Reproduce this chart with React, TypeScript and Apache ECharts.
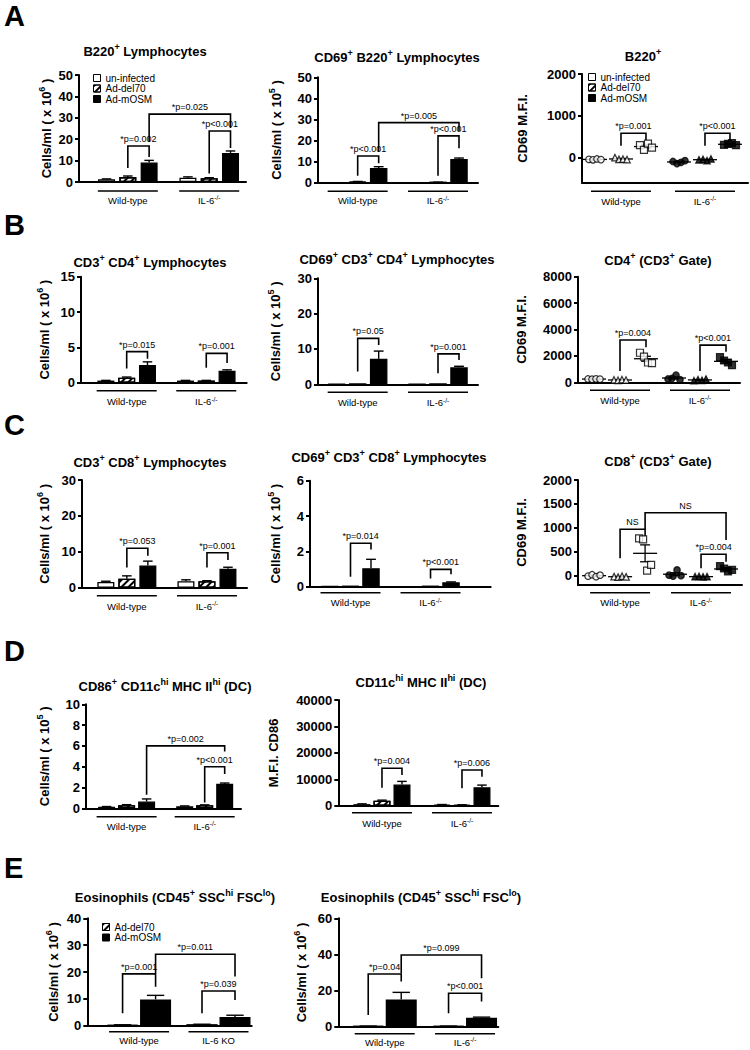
import React, { useEffect, useRef } from "react";
import * as echarts from "echarts";

const FONT = "'Liberation Sans', Arial, Helvetica, sans-serif";

const treatments = ["un-infected", "Ad-del70", "Ad-mOSM"];
const groupsStd = ["Wild-type", "IL-6{s|-/-}"];
const groupsKO = ["Wild-type", "IL-6 KO"];
const jitter = [-6, -2, 2, 6];

// ---- A1: B220+ lymphocytes (x10^6)
const a1Un = [1.3, 2.0];
const a1UnErr = [0.15, 0.4];
const a1Del = [2.3, 1.8];
const a1DelErr = [0.5, 0.2];
const a1Osm = [9.1, 13.6];
const a1OsmErr = [1.0, 0.9];
const a1Brackets = [[0, 1, 6.5, 0, 2, 11.7, 16.8], [1, 1, 4, 1, 2, 15.9, 23.8], [0, 2, 18.7, 1, 2, 25.2, 31.7]];
const a1Labels = ["*p=0.002", "*p<0.001", "*p=0.025"];

// ---- A2: CD69+ B220+ lymphocytes (x10^5)
const a2Un = [0.1, 0.1];
const a2UnErr = [0, 0];
const a2Del = [0.5, 0.2];
const a2DelErr = [0.1, 0.05];
const a2Osm = [7.0, 11.2];
const a2OsmErr = [0.6, 0.5];
const a2Brackets = [[0, 1, 3.3, 0, 2, 9.2, 12.7], [1, 1, 3.3, 1, 2, 16.3, 22.2], [0, 2, 14.7, 1, 2, 24.5, 28.5]];
const a2Labels = ["*p<0.001", "*p<0.001", "*p=0.005"];

// ---- A3: B220+ CD69 MFI
const a3WtUn = [-50, -60, -40, -55];
const a3WtDel = [-10, -50, -45, -55];
const a3WtOsm = [290, 180, 330, 230];
const a3KoUn = [-100, -150, -120, -80];
const a3KoDel = [-60, -50, -80, -40];
const a3KoOsm = [300, 320, 340, 290];
const a3Brackets = [[0, 1, 280, 0, 2, 415, 576], [1, 1, 280, 1, 2, 415, 576]];
const a3Labels = ["*p=0.001", "*p<0.001"];

// ---- B1: CD3+ CD4+ (x10^6)
const b1Un = [0.3, 0.3];
const b1UnErr = [0.03, 0.03];
const b1Del = [0.7, 0.3];
const b1DelErr = [0.1, 0.03];
const b1Osm = [2.5, 1.7];
const b1OsmErr = [0.45, 0.12];
const b1Brackets = [[0, 1, 2.0, 0, 2, 3.4, 4.4], [1, 1, 2.1, 1, 2, 2.8, 4.15]];
const b1Labels = ["*p=0.015", "*p=0.001"];

// ---- B2: CD69+ CD3+ CD4+ (x10^5)
const b2Un = [0.1, 0.05];
const b2UnErr = [0, 0];
const b2Del = [0.1, 0.05];
const b2DelErr = [0, 0];
const b2Osm = [7.2, 4.8];
const b2OsmErr = [2.2, 0.3];
const b2Brackets = [[0, 1, 3.6, 0, 2, 11.1, 13], [1, 1, 3.1, 1, 2, 6.9, 8.6]];
const b2Labels = ["*p=0.05", "*p=0.001"];

// ---- B3: CD4+ (CD3+ gate) CD69 MFI
const b3WtUn = [250, 230, 260, 240];
const b3WtDel = [180, 150, 200, 170];
const b3WtOsm = [2240, 1940, 1500, 1460];
const b3KoUn = [250, 300, 550, 200];
const b3KoDel = [120, 200, 150, 250];
const b3KoOsm = [1900, 1650, 1500, 1300];
const b3Brackets = [[0, 1, 850, 0, 2, 2650, 3200], [1, 1, 850, 1, 2, 2320, 2820]];
const b3Labels = ["*p=0.004", "*p<0.001"];

// ---- C1: CD3+ CD8+ (x10^6)
const c1Un = [1.6, 1.8];
const c1UnErr = [0.2, 0.4];
const c1Del = [2.5, 1.8];
const c1DelErr = [0.8, 0.15];
const c1Osm = [6.2, 5.3];
const c1OsmErr = [1.2, 0.4];
const c1Brackets = [[0, 1, 5.6, 0, 2, 8.9, 11], [1, 1, 5.6, 1, 2, 7.7, 9.75]];
const c1Labels = ["*p=0.053", "*p=0.001"];

// ---- C2: CD69+ CD3+ CD8+ (x10^5)
const c2Un = [0.02, 0.01];
const c2UnErr = [0, 0];
const c2Del = [0.03, 0.02];
const c2DelErr = [0, 0];
const c2Osm = [1.05, 0.25];
const c2OsmErr = [0.5, 0.02];
const c2Brackets = [[0, 1, 0.57, 0, 2, 2.1, 2.46], [1, 1, 0.47, 1, 2, 0.7, 0.98]];
const c2Labels = ["*p=0.014", "*p<0.001"];

// ---- C3: CD8+ (CD3+ gate) CD69 MFI
const c3WtUn = [-10, 20, -20, 10];
const c3WtDel = [-20, -30, -10, -25];
const c3WtOsm = [780, 760, 105, 224];
const c3KoUn = [10, -10, 120, 0];
const c3KoDel = [-20, -15, -25, -20];
const c3KoOsm = [200, 150, 90, 120];
const c3Brackets = [[0, 1, 364, 0, 2, 830, 970], [0, 2, 970, 1, 2, 746, 1316], [1, 1, 155, 1, 2, 293, 447]];
const c3Labels = ["NS", "NS", "*p=0.004"];

// ---- D1: CD86+ CD11c hi MHC II hi DC (x10^5)
const d1Un = [0.15, 0.2];
const d1UnErr = [0.02, 0.03];
const d1Del = [0.3, 0.3];
const d1DelErr = [0.05, 0.03];
const d1Osm = [0.65, 2.35];
const d1OsmErr = [0.25, 0.08];
const d1Brackets = [[1, 1, 0.55, 1, 2, 3.3, 4.0], [0, 2, 1.3, 1, 2, 5.45, 6.0]];
const d1Labels = ["*p<0.001", "*p=0.002"];

// ---- D2: DC MFI CD86
const d2Un = [600, 400];
const d2UnErr = [100, 50];
const d2Del = [1900, 300];
const d2DelErr = [200, 50];
const d2Osm = [8000, 7000];
const d2OsmErr = [1200, 800];
const d2Brackets = [[0, 1, 6800, 0, 2, 11600, 14150], [1, 1, 6580, 1, 2, 11000, 13500]];
const d2Labels = ["*p=0.004", "*p=0.006"];

// ---- E1: Eosinophils (x10^6), IL-6 KO
const e1Del = [0.3, 0.5];
const e1DelErr = [0.05, 0.05];
const e1Osm = [9.8, 3.2];
const e1OsmErr = [1.5, 0.7];
const e1Brackets = [[0, 0, 4.6, 0, 1, 14.5, 19.3], [1, 0, 4.6, 1, 1, 9.6, 12.9], [0, 1, 19.5, 1, 1, 18.3, 26.6]];
const e1Labels = ["*p=0.001", "*p=0.039", "*p=0.011"];

// ---- E2: Eosinophils (x10^6), IL-6-/-
const e2Del = [0.3, 0.3];
const e2DelErr = [0.05, 0.05];
const e2Osm = [15, 5];
const e2OsmErr = [4, 0.3];
const e2Brackets = [[0, 0, 6.5, 0, 1, 25, 29.2], [1, 0, 7.4, 1, 1, 13.9, 18.5], [0, 1, 29.6, 1, 1, 26.8, 39.7]];
const e2Labels = ["*p=0.04", "*p<0.001", "*p=0.099"];

const cellsE6 = "Cells/ml ( x 10{s|6} )";
const cellsE5 = "Cells/ml ( x 10{s|5} )";

const hatchDecal = {
  symbol: "rect",
  symbolSize: 1,
  color: "#000",
  dashArrayX: [1, 0],
  dashArrayY: [1.3, 2.3],
  rotation: -Math.PI / 4,
};

const treatmentStyles: any[] = [
  { color: "#fff", borderColor: "#000", borderWidth: 1.3 },
  { color: "#fff", borderColor: "#000", borderWidth: 1.3, decal: hatchDecal },
  { color: "#000", borderColor: "#000", borderWidth: 1.3 },
];

const symbols = ["circle", "triangle", "rect"];

function bars3(un: number[], unE: number[], del: number[], delE: number[], osm: number[], osmE: number[]) {
  return [
    { t: 0, means: un, errs: unE },
    { t: 1, means: del, errs: delE },
    { t: 2, means: osm, errs: osmE },
  ];
}

function pts3(wu: number[], wd: number[], wo: number[], ku: number[], kd: number[], ko: number[]) {
  return [
    { t: 0, wt: wu, ko: ku },
    { t: 1, wt: wd, ko: kd },
    { t: 2, wt: wo, ko: ko },
  ];
}

const specs: any[] = [
  {
    grid: { left: 79, top: 75, width: 167, height: 107 }, xMin: -0.6, xMax: 1.452,
    yMin: 0, yMax: 50, yInterval: 10, yName: cellsE6, nameGap: 23.5,
    title: "B220{s|+} Lymphocytes", tx: 145, ty: 51, groups: groupsStd, kind: "bar",
    barWidth: 17, spacing: 21.3, bars: bars3(a1Un, a1UnErr, a1Del, a1DelErr, a1Osm, a1OsmErr),
    brackets: a1Brackets, bl: a1Labels, lineDy: 9, labelDy: 18,
  },
  {
    grid: { left: 318, top: 77.3, width: 160, height: 105.4 }, xMin: -0.494, xMax: 1.498,
    yMin: 0, yMax: 50, yInterval: 10, yName: cellsE5, nameGap: 32.5,
    title: "CD69{s|+} B220{s|+} Lymphocytes", tx: 397, ty: 57.5, groups: groupsStd, kind: "bar",
    barWidth: 17.5, spacing: 21, bars: bars3(a2Un, a2UnErr, a2Del, a2DelErr, a2Osm, a2OsmErr),
    brackets: a2Brackets, bl: a2Labels, lineDy: 8.5, labelDy: 18,
  },
  {
    grid: { left: 582, top: 74, width: 166, height: 108.7 }, xMin: -0.464, xMax: 1.512,
    yMin: -610, yMax: 2000, yTicks: [0, 1000, 2000], yName: "CD69 M.F.I.", nameGap: 50.5,
    title: "B220{s|+}", tx: 643, ty: 56, groups: groupsStd, kind: "scatter",
    offsets: [-26, 0, 25], points: pts3(a3WtUn, a3WtDel, a3WtOsm, a3KoUn, a3KoDel, a3KoOsm),
    brackets: a3Brackets, bl: a3Labels, lineDy: 8.5, labelDy: 18.5,
  },
  {
    grid: { left: 81, top: 276.7, width: 165.7, height: 106 }, xMin: -0.574, xMax: 1.508,
    yMin: 0, yMax: 15, yInterval: 5, yName: cellsE6, nameGap: 28,
    title: "CD3{s|+} CD4{s|+} Lymphocytes", tx: 150, ty: 262, groups: groupsStd, kind: "bar",
    barWidth: 17, spacing: 20.8, bars: bars3(b1Un, b1UnErr, b1Del, b1DelErr, b1Osm, b1OsmErr),
    brackets: b1Brackets, bl: b1Labels, lineDy: 8, labelDy: 19,
  },
  {
    grid: { left: 318, top: 278.3, width: 160, height: 106 }, xMin: -0.494, xMax: 1.498,
    yMin: 0, yMax: 30, yInterval: 10, yName: cellsE5, nameGap: 33.3,
    title: "CD69{s|+} CD3{s|+} CD4{s|+} Lymphocytes", tx: 397, ty: 259, groups: groupsStd, kind: "bar",
    barWidth: 17.5, spacing: 21, bars: bars3(b2Un, b2UnErr, b2Del, b2DelErr, b2Osm, b2OsmErr),
    brackets: b2Brackets, bl: b2Labels, lineDy: 8, labelDy: 18.5,
  },
  {
    grid: { left: 578, top: 276.7, width: 162, height: 105.6 }, xMin: -0.525, xMax: 1.5,
    yMin: 0, yMax: 8000, yInterval: 2000, yName: "CD69 M.F.I.", nameGap: 47.2,
    title: "CD4{s|+} (CD3{s|+} Gate)", tx: 658, ty: 260.5, groups: groupsStd, kind: "scatter",
    offsets: [-26, 0, 26], points: pts3(b3WtUn, b3WtDel, b3WtOsm, b3KoUn, b3KoDel, b3KoOsm),
    brackets: b3Brackets, bl: b3Labels, lineDy: 8, labelDy: 18,
  },
  {
    grid: { left: 82, top: 480, width: 165, height: 107.7 }, xMin: -0.56, xMax: 1.5,
    yMin: 0, yMax: 30, yInterval: 10, yName: cellsE6, nameGap: 29,
    title: "CD3{s|+} CD8{s|+} Lymphocytes", tx: 150, ty: 462, groups: groupsStd, kind: "bar",
    barWidth: 17, spacing: 21, bars: bars3(c1Un, c1UnErr, c1Del, c1DelErr, c1Osm, c1OsmErr),
    brackets: c1Brackets, bl: c1Labels, lineDy: 8, labelDy: 18.5,
  },
  {
    grid: { left: 310, top: 480.7, width: 180.7, height: 106 }, xMin: -0.506, xMax: 1.752,
    yMin: 0, yMax: 6, yInterval: 2, yName: cellsE5, nameGap: 25.3,
    title: "CD69{s|+} CD3{s|+} CD8{s|+} Lymphocytes", tx: 389, ty: 457.5, groups: groupsStd, kind: "bar",
    barWidth: 17.5, spacing: 20.5, bars: bars3(c2Un, c2UnErr, c2Del, c2DelErr, c2Osm, c2OsmErr),
    brackets: c2Brackets, bl: c2Labels, lineDy: 6, labelDy: 16,
  },
  {
    grid: { left: 578, top: 480, width: 164, height: 105 }, xMin: -0.52, xMax: 1.506,
    yMin: -195, yMax: 2000, yTicks: [0, 500, 1000, 1500, 2000], yName: "CD69 M.F.I.", nameGap: 47.5,
    title: "CD8{s|+} (CD3{s|+} Gate)", tx: 658, ty: 461.3, groups: groupsStd, kind: "scatter",
    offsets: [-26, 0, 25], points: pts3(c3WtUn, c3WtDel, c3WtOsm, c3KoUn, c3KoDel, c3KoOsm),
    brackets: c3Brackets, bl: c3Labels, lineDy: 7.7, labelDy: 17.7,
  },
  {
    grid: { left: 86, top: 704.3, width: 155, height: 104 }, xMin: -0.52, xMax: 1.465,
    yMin: 0, yMax: 10, yInterval: 2, yName: cellsE5, nameGap: 33,
    title: "CD86{s|+} CD11c{s|hi} MHC II{s|hi} (DC)", tx: 165, ty: 686, groups: groupsStd, kind: "bar",
    barWidth: 17, spacing: 20, bars: bars3(d1Un, d1UnErr, d1Del, d1DelErr, d1Osm, d1OsmErr),
    brackets: d1Brackets, bl: d1Labels, lineDy: 8.5, labelDy: 18,
  },
  {
    grid: { left: 338.3, top: 700, width: 160, height: 105.7 }, xMin: -0.546, xMax: 1.454,
    yMin: 0, yMax: 40000, yInterval: 10000, yName: "M.F.I. CD86", nameGap: 55.8,
    title: "CD11c{s|hi} MHC II{s|hi} (DC)", tx: 421, ty: 682.5, groups: groupsStd, kind: "bar",
    barWidth: 17, spacing: 20, bars: bars3(d2Un, d2UnErr, d2Del, d2DelErr, d2Osm, d2OsmErr),
    brackets: d2Brackets, bl: d2Labels, lineDy: 7, labelDy: 17.5,
  },
  {
    grid: { left: 87.3, top: 918.3, width: 164.4, height: 107.4 }, xMin: -0.652, xMax: 1.418,
    yMin: 0, yMax: 40, yInterval: 10, yName: cellsE6, nameGap: 24.6,
    title: "Eosinophils (CD45{s|+} SSC{s|hi} FSC{s|lo})", tx: 175, ty: 897, groups: groupsKO, kind: "bar",
    barWidth: 31, spacing: 33,
    bars: [{ t: 1, means: e1Del, errs: e1DelErr }, { t: 2, means: e1Osm, errs: e1OsmErr }],
    brackets: e1Brackets, bl: e1Labels, lineDy: 6, labelDy: 14.5,
  },
  {
    grid: { left: 338.3, top: 918.3, width: 160, height: 108.4 }, xMin: -0.578, xMax: 1.414,
    yMin: 0, yMax: 60, yInterval: 20, yName: cellsE6, nameGap: 28,
    title: "Eosinophils (CD45{s|+} SSC{s|hi} FSC{s|lo})", tx: 421, ty: 897, groups: groupsStd, kind: "bar",
    barWidth: 31, spacing: 33,
    bars: [{ t: 1, means: e2Del, errs: e2DelErr }, { t: 2, means: e2Osm, errs: e2OsmErr }],
    brackets: e2Brackets, bl: e2Labels, lineDy: 7, labelDy: 15.5,
  },
];

const panelLetters = [
  { text: "A", y: 16 },
  { text: "B", y: 225 },
  { text: "C", y: 425 },
  { text: "D", y: 651 },
  { text: "E", y: 868 },
];

function slotX(sp: any, slot: number) {
  if (sp.kind === "scatter") return sp.offsets[slot];
  const n = sp.bars.length;
  return (slot - (n - 1) / 2) * sp.spacing;
}

const supRich = (size: number, bold: boolean) => ({
  s: {
    fontSize: size,
    fontWeight: bold ? "bold" : "normal",
    fontFamily: FONT,
    fill: "#000",
    color: "#000",
    verticalAlign: "top",
    lineHeight: size + 1,
  },
});

function mean(a: number[]) {
  return a.reduce((s, v) => s + v, 0) / a.length;
}
function sem(a: number[]) {
  const m = mean(a);
  const v = a.reduce((s, x) => s + (x - m) * (x - m), 0) / (a.length - 1);
  return Math.sqrt(v / a.length);
}

function buildOption() {
  const grid: any[] = [];
  const xAxis: any[] = [];
  const yAxis: any[] = [];
  const series: any[] = [];
  const graphics: any[] = [];

  panelLetters.forEach((p) => {
    graphics.push({
      type: "text", x: 4, y: p.y, silent: true,
      style: { text: p.text, fontSize: 29, fontWeight: "bold", fontFamily: FONT, fill: "#000", align: "left", verticalAlign: "middle" },
    });
  });

  specs.forEach((sp, k) => {
    grid.push({ left: sp.grid.left, top: sp.grid.top, width: sp.grid.width, height: sp.grid.height, containLabel: false, outerBoundsMode: "none" });
    xAxis.push({
      gridIndex: k, type: "value", min: sp.xMin, max: sp.xMax,
      axisLine: { show: true, onZero: false, lineStyle: { color: "#000", width: 2 } },
      axisTick: { show: false }, axisLabel: { show: false }, splitLine: { show: false },
    });
    const ya: any = {
      gridIndex: k, type: "value", min: sp.yMin, max: sp.yMax,
      name: sp.yName, nameLocation: "middle", nameGap: sp.nameGap, nameRotate: 90, nameMoveOverlap: false,
      nameTextStyle: { color: "#000", fontSize: 13, fontWeight: "bold", fontFamily: FONT, lineHeight: 18, rich: supRich(9, true) },
      axisLine: { show: true, onZero: false, lineStyle: { color: "#000", width: 2 } },
      axisTick: { show: true, length: 4, lineStyle: { color: "#000", width: 2 } },
      axisLabel: {
        color: "#000", fontSize: 13, fontWeight: "bold", fontFamily: FONT, margin: 6,
        formatter: (v: number) => String(v),
      },
      splitLine: { show: false },
    };
    if (sp.yTicks) {
      ya.axisLabel.customValues = sp.yTicks;
      ya.axisTick.customValues = sp.yTicks;
    } else {
      ya.interval = sp.yInterval;
    }
    yAxis.push(ya);

    graphics.push({
      type: "text", x: sp.tx, y: sp.ty, silent: true,
      style: {
        text: sp.title, fontSize: 13, fontWeight: "bold", fontFamily: FONT, fill: "#000",
        align: "center", verticalAlign: "middle", lineHeight: 18, rich: supRich(9, true),
      },
    });

    if (sp.kind === "bar") {
      const gapPct = ((sp.spacing - sp.barWidth) / sp.barWidth) * 100;
      sp.bars.forEach((b: any) => {
        series.push({
          type: "bar", name: treatments[b.t], xAxisIndex: k, yAxisIndex: k,
          barWidth: sp.barWidth, barGap: gapPct.toFixed(2) + "%",
          data: b.means.map((v: number, g: number) => [g, v]),
          itemStyle: treatmentStyles[b.t], silent: true, z: 2,
        });
      });
      const errData: number[][] = [];
      sp.bars.forEach((b: any, slot: number) => {
        b.means.forEach((v: number, g: number) => errData.push([g, slot, v, b.errs[g]]));
      });
      series.push({
        type: "custom", xAxisIndex: k, yAxisIndex: k, silent: true, z: 3, data: errData,
        renderItem: (params: any, api: any) => {
          const g = api.value(0), s = api.value(1), m = api.value(2), e = api.value(3);
          if (!e) return { type: "group", children: [] };
          const p0 = api.coord([g, m]);
          const p1 = api.coord([g, m + e]);
          const x = p0[0] + slotX(sp, s);
          const cap = sp.barWidth * 0.28;
          return {
            type: "group",
            children: [
              { type: "line", shape: { x1: x, y1: p0[1], x2: x, y2: p1[1] }, style: { stroke: "#000", lineWidth: 1.4 } },
              { type: "line", shape: { x1: x - cap, y1: p1[1], x2: x + cap, y2: p1[1] }, style: { stroke: "#000", lineWidth: 1.4 } },
            ],
          };
        },
      });
    } else {
      sp.points.forEach((p: any) => {
        const data: any[] = [];
        p.wt.forEach((v: number, j: number) => data.push({
          value: [0, v], symbolOffset: [sp.offsets[p.t] + jitter[j], 0],
          itemStyle: { color: "#fff", borderColor: "#000", borderWidth: 1.2 },
        }));
        p.ko.forEach((v: number, j: number) => data.push({
          value: [1, v], symbolOffset: [sp.offsets[p.t] + jitter[j], 0],
          itemStyle: { color: "#000", borderColor: "#000", borderWidth: 1.2 },
        }));
        series.push({
          type: "scatter", name: treatments[p.t], xAxisIndex: k, yAxisIndex: k,
          symbol: symbols[p.t], symbolSize: p.t === 2 ? 7 : 6.5, data, silent: true, z: 4,
        });
      });
      const msData: number[][] = [];
      sp.points.forEach((p: any) => {
        msData.push([0, p.t, mean(p.wt), sem(p.wt)]);
        msData.push([1, p.t, mean(p.ko), sem(p.ko)]);
      });
      series.push({
        type: "custom", xAxisIndex: k, yAxisIndex: k, silent: true, z: 3, data: msData,
        renderItem: (params: any, api: any) => {
          const g = api.value(0), s = api.value(1), m = api.value(2), e = api.value(3);
          const pm = api.coord([g, m]);
          const pu = api.coord([g, m + e]);
          const pl = api.coord([g, m - e]);
          const x = pm[0] + slotX(sp, s);
          const st = { stroke: "#000", lineWidth: 1.3 };
          return {
            type: "group",
            children: [
              { type: "line", shape: { x1: x - 12, y1: pm[1], x2: x + 12, y2: pm[1] }, style: st },
              { type: "line", shape: { x1: x, y1: pu[1], x2: x, y2: pl[1] }, style: st },
              { type: "line", shape: { x1: x - 5, y1: pu[1], x2: x + 5, y2: pu[1] }, style: st },
              { type: "line", shape: { x1: x - 5, y1: pl[1], x2: x + 5, y2: pl[1] }, style: st },
            ],
          };
        },
      });
    }

    // significance brackets
    series.push({
      type: "custom", xAxisIndex: k, yAxisIndex: k, silent: true, z: 5, data: sp.brackets,
      renderItem: (params: any, api: any) => {
        const gA = api.value(0), sA = api.value(1), yA = api.value(2);
        const gB = api.value(3), sB = api.value(4), yB = api.value(5), yT = api.value(6);
        const pA = api.coord([gA, yA]);
        const pB = api.coord([gB, yB]);
        const pT = api.coord([gA, yT]);
        const xA = pA[0] + slotX(sp, sA);
        const xB = pB[0] + slotX(sp, sB);
        return {
          type: "group",
          children: [
            {
              type: "polyline",
              shape: { points: [[xA, pA[1]], [xA, pT[1]], [xB, pT[1]], [xB, pB[1]]] },
              style: { stroke: "#000", lineWidth: 1.6, fill: null },
            },
            {
              type: "text",
              style: {
                text: sp.bl[params.dataIndex], x: (xA + xB) / 2, y: pT[1] - 2.5,
                align: "center", verticalAlign: "bottom", fontSize: 9, fontFamily: FONT, fill: "#000",
              },
            },
          ],
        };
      },
    });

    // group underlines and labels
    series.push({
      type: "custom", xAxisIndex: k, yAxisIndex: k, silent: true, z: 5, data: [[0, sp.yMin], [1, sp.yMin]],
      renderItem: (params: any, api: any) => {
        const g = api.value(0);
        const p = api.coord([g, sp.yMin]);
        const bottom = params.coordSys.y + params.coordSys.height;
        return {
          type: "group",
          children: [
            {
              type: "line",
              shape: { x1: p[0] - 30, y1: bottom + sp.lineDy, x2: p[0] + 30, y2: bottom + sp.lineDy },
              style: { stroke: "#000", lineWidth: 1.5 },
            },
            {
              type: "text",
              style: {
                text: sp.groups[g], x: p[0], y: bottom + sp.labelDy, align: "center", verticalAlign: "middle",
                fontSize: 9.5, fontFamily: FONT, fill: "#000", lineHeight: 12, rich: supRich(6.5, false),
              },
            },
          ],
        };
      },
    });
  });

  const legendBase = {
    orient: "vertical", icon: "rect", itemWidth: 7, itemHeight: 7, itemGap: 0.5, padding: 0,
    selectedMode: false,
    textStyle: { fontSize: 10, fontFamily: FONT, color: "#000", lineHeight: 10 },
    itemStyle: { borderColor: "#000", borderWidth: 1 },
  };

  return {
    animation: false,
    backgroundColor: "#fff",
    grid, xAxis, yAxis, series,
    legend: [
      { ...legendBase, left: 93, top: 73, data: treatments },
      { ...legendBase, left: 588, top: 72, data: treatments },
      { ...legendBase, left: 102, top: 922, data: [treatments[1], treatments[2]] },
    ],
    graphic: { elements: graphics },
  };
}

export default function App() {
  const ref = useRef<HTMLDivElement>(null);
  useEffect(() => {
    const chart = echarts.init(ref.current as HTMLDivElement, null, { renderer: "svg" });
    chart.setOption(buildOption() as any);
    return () => chart.dispose();
  }, []);
  return (
    <div
      ref={ref}
      style={{ position: "fixed", left: 0, top: 0, width: 750, height: 1050, background: "#fff" }}
    />
  );
}
